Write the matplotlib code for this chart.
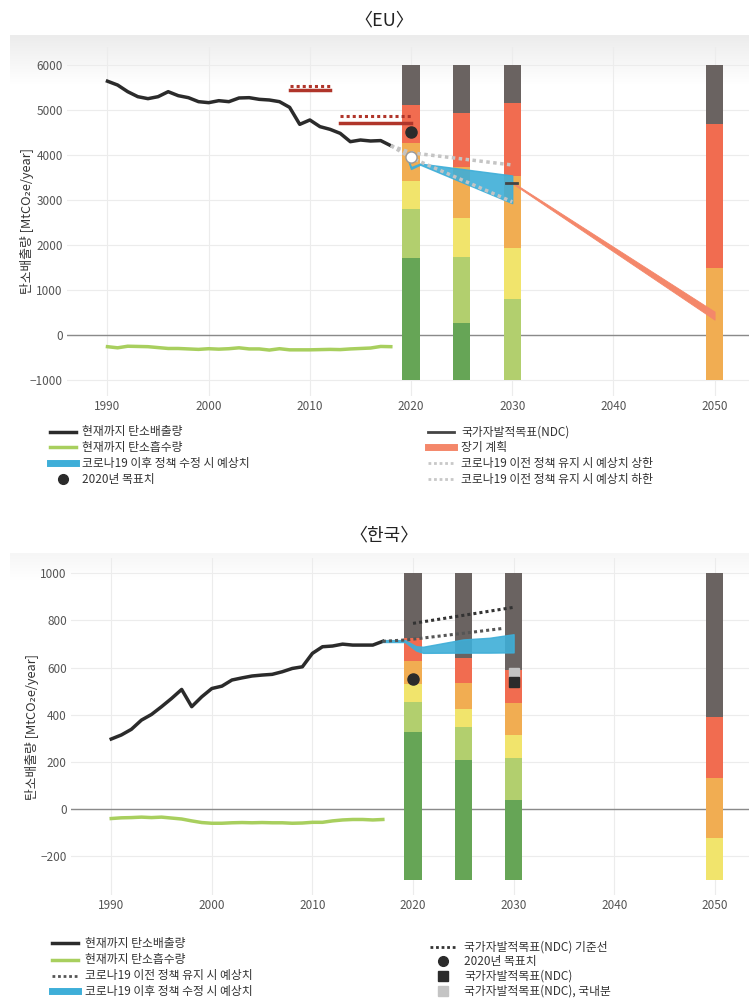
import numpy as np
import matplotlib
matplotlib.use("Agg")
import matplotlib.pyplot as plt
from matplotlib.lines import Line2D

plt.rcParams['font.family'] = ['Noto Sans CJK KR', 'DejaVu Sans']

W, H = 749, 1001

# ---- EU
eu_years = np.arange(1990, 2019)
eu_emission = [5640, 5555, 5407, 5296, 5252, 5296, 5407, 5318, 5274, 5185,
               5163, 5207, 5185, 5267, 5274, 5237, 5222, 5185, 5059, 4681,
               4778, 4630, 4570, 4481, 4296, 4333, 4311, 4320, 4207]
eu_sink = [-260, -285, -250, -255, -260, -280, -300, -300, -310, -320,
           -305, -315, -305, -285, -310, -310, -335, -305, -330, -330,
           -330, -325, -320, -325, -310, -300, -290, -255, -260]

bar_years = [2020, 2025, 2030, 2050]
eu_base = -1000
eu_top_dgreen = [1704, 259, -1000, -1000]
eu_top_lgreen = [2800, 1741, 793, -1000]
eu_top_yellow = [3422, 2593, 1941, -1000]
eu_top_orange = [4259, 3741, 3533, 1496]
eu_top_red = [5111, 4926, 5148, 4689]
eu_top_gray = [6000, 6000, 6000, 6000]

eu_ndc1_years, eu_ndc1 = [2008, 2012], [5450, 5540]  # solid, dotted
eu_ndc2_years, eu_ndc2 = [2013, 2020], [4720, 4870]
eu_target2020 = 4519
eu_white_dot = 3948
eu_ndc2030 = 3385

eu_pre_years = [2018, 2020, 2030]
eu_pre_upper = [4207, 4050, 3778]
eu_pre_lower = [4207, 3940, 2960]

eu_post_years = [2019.6, 2020, 2020.9, 2030]
eu_post_upper = [3975, 3730, 3810, 3545]
eu_post_lower = [3950, 3690, 3785, 2930]

eu_long_years = [2030, 2050]
eu_long_upper = [3400, 520]
eu_long_lower = [3370, 340]

# ---- 한국
kr_years = np.arange(1990, 2018)
kr_emission = [297, 314, 338, 377, 401, 434, 469, 507, 434, 476,
               511, 521, 547, 556, 564, 568, 571, 582, 596, 603,
               660, 688, 691, 699, 695, 695, 695, 711]
kr_sink = [-40, -37, -36, -34, -36, -34, -38, -42, -50, -57,
           -60, -60, -58, -57, -58, -57, -58, -58, -60, -59,
           -56, -56, -50, -46, -44, -44, -46, -44]

kr_base = -300
kr_top_dgreen = [328, 208, 38, -300]
kr_top_lgreen = [455, 346, 215, -300]
kr_top_yellow = [530, 424, 314, -124]
kr_top_orange = [627, 533, 448, 130]
kr_top_red = [727, 641, 589, 391]
kr_top_gray = [1000, 1000, 1000, 1000]

kr_base_years, kr_base_line = [2020, 2030], [787, 855]
kr_pre_years = [2017, 2019, 2020, 2025, 2029]
kr_pre = [711, 716, 720, 745, 766]
kr_post_years = [2017, 2019.2, 2020.3, 2021, 2025, 2027.6, 2030]
kr_post_upper = [716, 716, 690, 688, 719, 726, 741]
kr_post_lower = [708, 708, 672, 662, 663, 663, 664]
kr_target2020 = 551
kr_ndc2030 = 539
kr_ndc2030_domestic = 578

seg_colors = ['#66a556', '#b2cf6e', '#f1e46c', '#f1ad52', '#f16c50', '#6a6361']
BLACK = '#2b2b2b'
GREEN = '#a8cf5e'
BLUE = '#3eaed8'
SALMON = '#f4876a'


def stacked(ax, base, tops):
    bottom = np.full(len(bar_years), base, float)
    for top, c in zip(tops, seg_colors):
        top = np.asarray(top, float)
        ax.bar(bar_years, top - bottom, bottom=bottom, width=1.7, color=c,
               linewidth=0, zorder=2)
        bottom = top


def setup(ax, ylim, yticks, label_x):
    ax.set_xlim(1986.0, 2053.4)
    ax.set_ylim(*ylim)
    ax.set_xticks(range(1990, 2051, 10))
    ax.set_yticks(yticks)
    ax.grid(color='#ececec', lw=0.8)
    ax.set_axisbelow(True)
    for s in ax.spines.values():
        s.set_visible(False)
    ax.tick_params(length=0, colors='#555', labelsize=8.5, pad=3)
    ax.axhline(0, color='#8a8a8a', lw=1, zorder=1)
    ax.patch.set_alpha(0)
    ax.set_ylabel('탄소배출량 [MtCO₂e/year]', fontsize=9.2, color='#333')
    ax.yaxis.set_label_coords(label_x, 0.5)


def gradient(y0, y1, c0):
    gax = fig.add_axes([10 / W, 1 - y1 / H, 739 / W, (y1 - y0) / H])
    g = np.linspace(0, 1, 50)[:, None, None]
    top = np.array(c0)[None, None, :] / 255
    img = top * (1 - g) + g
    gax.imshow(np.repeat(img, 2, axis=1), aspect='auto', extent=(0, 1, 0, 1))
    gax.axis('off')


def legend_item(x0, x1, tx, y, text, **kw):
    fy = 1 - y / H
    if kw.pop('marker_only', False):
        fig.add_artist(Line2D([(x0 + x1) / 2 / W], [fy], transform=fig.transFigure,
                              linestyle='none', **kw))
    else:
        fig.add_artist(Line2D([x0 / W, x1 / W], [fy, fy], transform=fig.transFigure, **kw))
    fig.text(tx / W, fy, text, va='center', fontsize=8.5, color='#333')


fig = plt.figure(figsize=(W / 100, H / 100), dpi=100)
gradient(35, 85, (236, 236, 236))
gradient(553, 580, (246, 246, 246))

# ---------- EU
ax1 = fig.add_axes([67 / W, 1 - 396 / H, 682 / W, 349 / H])
setup(ax1, (-1356, 6400), range(-1000, 6001, 1000), -0.048)
stacked(ax1, eu_base, [eu_top_dgreen, eu_top_lgreen, eu_top_yellow,
                       eu_top_orange, eu_top_red, eu_top_gray])
ax1.plot(eu_years, eu_emission, color=BLACK, lw=2.5, zorder=4)
ax1.plot(eu_years, eu_sink, color=GREEN, lw=2.5, zorder=4)
for yrs, v in [(eu_ndc1_years, eu_ndc1), (eu_ndc2_years, eu_ndc2)]:
    ax1.plot(yrs, [v[0], v[0]], color='#b0352a', lw=2.5, zorder=4)
    ax1.plot(yrs, [v[1], v[1]], color='#b0352a', lw=2.2, ls=(0, (1, 1)), zorder=4)
ax1.fill_between(eu_long_years, eu_long_lower, eu_long_upper, color=SALMON,
                 lw=0.6, edgecolor=SALMON, zorder=3)
ax1.fill_between(eu_post_years, eu_post_lower, eu_post_upper, color=BLUE,
                 alpha=0.9, lw=1, edgecolor=BLUE, zorder=4)
ax1.plot(eu_pre_years, eu_pre_upper, color='#c4c4c4', lw=2.5, ls=(0, (1, 1)), zorder=5)
ax1.plot(eu_pre_years, eu_pre_lower, color='#c4c4c4', lw=2.5, ls=(0, (1, 1)), zorder=5)
ax1.plot([2029.4, 2030.5], [eu_ndc2030, eu_ndc2030], color='#444', lw=2, zorder=6)
ax1.plot([2020], [eu_target2020], 'o', color=BLACK, ms=8, zorder=6)
ax1.plot([2020], [eu_white_dot], 'o', mfc='white', mec='#999', mew=1, ms=8, zorder=6)

# ---------- 한국
ax2 = fig.add_axes([71 / W, 1 - 895 / H, 678 / W, 337 / H])
setup(ax2, (-364, 1064), range(-200, 1001, 200), -0.047)
stacked(ax2, kr_base, [kr_top_dgreen, kr_top_lgreen, kr_top_yellow,
                       kr_top_orange, kr_top_red, kr_top_gray])
ax2.plot(kr_years, kr_emission, color=BLACK, lw=2.5, zorder=4)
ax2.plot(kr_years, kr_sink, color=GREEN, lw=2.5, zorder=4)
ax2.fill_between(kr_post_years, kr_post_lower, kr_post_upper, color=BLUE,
                 alpha=0.9, lw=1, edgecolor=BLUE, zorder=4)
ax2.plot(kr_base_years, kr_base_line, color='#333', lw=2.2, ls=(0, (1, 1)), zorder=5)
ax2.plot(kr_pre_years, kr_pre, color='#555', lw=2.2, ls=(0, (1, 1)), zorder=5)
ax2.plot([2020], [kr_target2020], 'o', color=BLACK, ms=8, zorder=6)
ax2.plot([2030], [kr_ndc2030_domestic], 's', color='#c4c4c4', ms=7.5, zorder=6)
ax2.plot([2030], [kr_ndc2030], 's', color=BLACK, ms=7.5, zorder=6)

# titles
fig.text(384 / W, 1 - 20 / H, '〈EU〉', ha='center', va='center', fontsize=13, color='#222')
fig.text(384 / W, 1 - 535 / H, '〈한국〉', ha='center', va='center', fontsize=13, color='#222')

# EU legend
dot = (0, (1, 1))
legend_item(50, 76, 82, 432, '현재까지 탄소배출량', color=BLACK, lw=2.5)
legend_item(50, 76, 82, 447, '현재까지 탄소흡수량', color=GREEN, lw=2.5)
legend_item(50, 76, 82, 463, '코로나19 이후 정책 수정 시 예상치', color=BLUE, lw=5)
legend_item(50, 76, 82, 479, '2020년 목표치', marker_only=True, marker='o', color=BLACK, ms=7)
legend_item(428, 454, 461, 432, '국가자발적목표(NDC)', color='#444', lw=2)
legend_item(428, 454, 461, 447, '장기 계획', color=SALMON, lw=5)
legend_item(428, 454, 461, 463, '코로나19 이전 정책 유지 시 예상치 상한', color='#c8c8c8', lw=2, ls=dot)
legend_item(428, 454, 461, 479, '코로나19 이전 정책 유지 시 예상치 하한', color='#c8c8c8', lw=2, ls=dot)

# 한국 legend
legend_item(52, 78, 85, 943, '현재까지 탄소배출량', color=BLACK, lw=2.5)
legend_item(52, 78, 85, 960, '현재까지 탄소흡수량', color=GREEN, lw=2.5)
legend_item(52, 78, 85, 976, '코로나19 이전 정책 유지 시 예상치', color='#555', lw=2, ls=dot)
legend_item(52, 78, 85, 991, '코로나19 이후 정책 수정 시 예상치', color=BLUE, lw=5)
legend_item(430, 456, 464, 947, '국가자발적목표(NDC) 기준선', color='#333', lw=2, ls=dot)
legend_item(430, 456, 464, 961, '2020년 목표치', marker_only=True, marker='o', color=BLACK, ms=7)
legend_item(430, 456, 464, 976, '국가자발적목표(NDC)', marker_only=True, marker='s', color=BLACK, ms=7)
legend_item(430, 456, 464, 991, '국가자발적목표(NDC), 국내분', marker_only=True, marker='s', color='#c4c4c4', ms=7)

fig.savefig('out.png', dpi=100)
